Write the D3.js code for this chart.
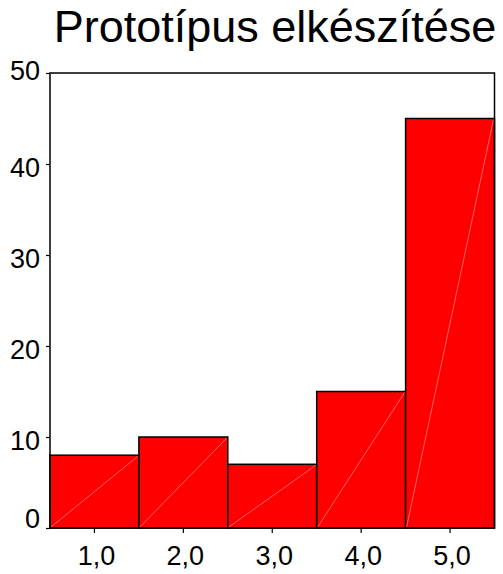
<!DOCTYPE html>
<html><head><meta charset="utf-8">
<script src="https://cdn.jsdelivr.net/npm/d3@7"></script>
<style>body{margin:0;background:#fff}svg{display:block}text{font-family:"Liberation Sans",Arial,sans-serif;fill:#000}</style>
</head><body><div id="c"></div>
<script>
const title = "Prototípus elkészítése";
const categories = ["1,0","2,0","3,0","4,0","5,0"];
const values = [8,10,7,15,45];
const yTicks = [0,10,20,30,40,50];

const W=503,H=574;
const svg=d3.select("#c").append("svg").attr("width",W).attr("height",H);
const x=d3.scaleBand().domain(categories).range([50,494.5]).padding(0);
const y=d3.scaleLinear().domain([0,50]).range([528,73]);

svg.append("text").attr("x",275).attr("y",42).attr("text-anchor","middle")
  .style("font-size","45px").text(title);

// bars
const g=svg.append("g");
g.selectAll("rect.bar").data(values).join("rect").attr("class","bar")
  .attr("x",(d,i)=>x(categories[i])).attr("width",x.bandwidth())
  .attr("y",d=>y(d)).attr("height",d=>y(0)-y(d))
  .attr("fill","#ff0000").attr("stroke","#000").attr("stroke-width",1.5);
g.selectAll("line.diag").data(values).join("line").attr("class","diag")
  .attr("x1",(d,i)=>x(categories[i])+1).attr("y1",y(0)-1)
  .attr("x2",(d,i)=>x(categories[i])+x.bandwidth()-1).attr("y2",d=>y(d)+1)
  .attr("stroke","#ff8c8c").attr("stroke-width",0.7);

// frame
svg.append("rect").attr("x",50).attr("y",73).attr("width",444.5).attr("height",455)
  .attr("fill","none").attr("stroke","#000").attr("stroke-width",1.5);

// y axis
const ya=svg.append("g").attr("transform","translate(50,0)")
  .call(d3.axisLeft(y).tickValues(yTicks).tickSize(4).tickPadding(6).tickFormat(d3.format("d")));
ya.select(".domain").remove();
const yMin=d3.min(yTicks), yMax=d3.max(yTicks);
ya.selectAll("text").style("font-size","27px")
  .attr("dy",d=>d===yMin?"-0.02em":(d===yMax?"0.25em":"0.48em"));
ya.selectAll("line").attr("stroke-width",1.2);

// x axis
const xa=svg.append("g").attr("transform","translate(0,528)")
  .call(d3.axisBottom(x).tickSize(5).tickPadding(13));
xa.select(".domain").remove();
xa.selectAll("text").style("font-size","27px").attr("dy","0.71em").attr("dx","2");
xa.selectAll("line").attr("stroke-width",1.2);
</script></body></html>
